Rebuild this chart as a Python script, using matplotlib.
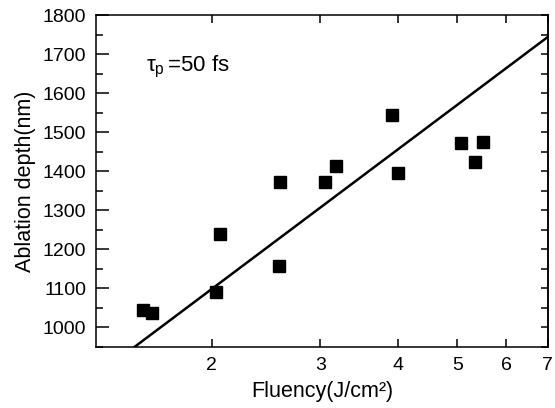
import matplotlib
matplotlib.use("Agg")
import matplotlib.pyplot as plt
from matplotlib.ticker import FixedLocator, NullLocator, FixedFormatter

plt.rcParams["font.family"] = ["Liberation Sans", "DejaVu Sans"]
plt.rcParams["mathtext.fontset"] = "custom"
plt.rcParams["mathtext.rm"] = "Liberation Sans"
plt.rcParams["mathtext.it"] = "Liberation Sans"

# measured points
fluency = [1.55, 1.60, 2.03, 2.06, 2.57, 2.58, 3.05, 3.18, 3.92, 4.00, 5.06, 5.33, 5.49]
depth = [1045, 1037, 1092, 1239, 1158, 1373, 1373, 1414, 1544, 1395, 1473, 1423, 1476]

# fitted line endpoints
fit_x = [1.50, 7.0]
fit_y = [950, 1744]

x_ticks = [2, 3, 4, 5, 6, 7]
y_major = list(range(1000, 1801, 100))
y_minor = list(range(950, 1801, 50))

fig = plt.figure(figsize=(5.55, 4.08), dpi=100)
ax = fig.add_axes([0.173, 0.1495, 0.814, 0.8135])

ax.plot(fit_x, fit_y, color="black", linewidth=1.8)
ax.plot(fluency, depth, "s", color="black", markersize=9)

ax.set_xscale("log")
ax.set_xlim(1.3, 7)
ax.set_ylim(950, 1800)

ax.xaxis.set_major_locator(FixedLocator(x_ticks))
ax.xaxis.set_major_formatter(FixedFormatter([str(t) for t in x_ticks]))
ax.xaxis.set_minor_locator(NullLocator())
ax.yaxis.set_major_locator(FixedLocator(y_major))
ax.yaxis.set_minor_locator(FixedLocator(y_minor))

ax.tick_params(axis="x", which="major", direction="in", length=6, width=1.1,
               top=True, labelsize=14, pad=7)
ax.tick_params(axis="y", which="major", direction="in", length=9.5, width=1.1,
               labelsize=14, pad=7)
ax.tick_params(axis="y", which="minor", direction="in", length=5, width=1.1)

sec = ax.secondary_yaxis("right")
sec.yaxis.set_major_locator(FixedLocator(y_minor))
sec.yaxis.set_minor_locator(NullLocator())
sec.tick_params(direction="in", length=5, width=1.1, labelright=False)
sec.spines["right"].set_linewidth(1.1)

for s in ax.spines.values():
    s.set_linewidth(1.1)

ax.set_xlabel("Fluency(J/cm\u00b2)", fontsize=15.5, labelpad=5)
ax.set_ylabel("Ablation depth(nm)", fontsize=15.5, labelpad=5)

ax.text(1.565, 1668, r"$\tau_\mathrm{p}\,$=50 fs", fontsize=16, va="center", ha="left")

fig.savefig("out.png", dpi=100)
